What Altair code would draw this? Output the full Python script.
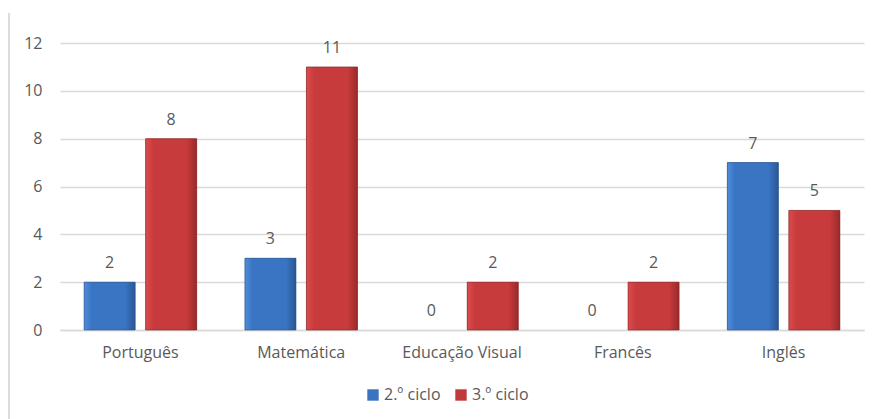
import altair as alt
import pandas as pd

categories = ["Português", "Matemática", "Educação Visual", "Francês", "Inglês"]
series = ["2.º ciclo", "3.º ciclo"]
values_2 = [2, 3, 0, 0, 7]
values_3 = [8, 11, 2, 2, 5]
y_ticks = [0, 2, 4, 6, 8, 10, 12]
colors = ["#3b73c0", "#c2393b"]

rows = []
for c, a, b in zip(categories, values_2, values_3):
    rows.append({"cat": c, "serie": series[0], "v": a})
    rows.append({"cat": c, "serie": series[1], "v": b})
df = pd.DataFrame(rows)

FONT = "Open Sans"
TXT = "#595959"
FS = 16

x = alt.X("cat:N", sort=categories,
          scale=alt.Scale(paddingInner=0.3, paddingOuter=0.15),
          axis=alt.Axis(title=None, labelAngle=0, ticks=False, domainColor="#d9d9d9",
                        domainWidth=1.5, labelPadding=14, labelFontSize=FS,
                        labelColor=TXT, labelFont=FONT))
xo = alt.XOffset("serie:N", sort=series, scale=alt.Scale(paddingInner=0.17))
y = alt.Y("v:Q", scale=alt.Scale(domain=[0, 12]),
          axis=alt.Axis(values=y_ticks, title=None, domain=False, ticks=False,
                        gridColor="#d9d9d9", gridWidth=1.5, labelPadding=18,
                        labelFontSize=FS, labelColor=TXT, labelFont=FONT))

base = alt.Chart(df)

bars = base.mark_bar(strokeWidth=0).encode(
    x=x, xOffset=xo, y=y,
    color=alt.Color("serie:N", sort=series,
                    scale=alt.Scale(domain=series, range=colors),
                    legend=alt.Legend(title=None, orient="none", legendX=305, legendY=344,
                                      direction="horizontal", symbolType="square",
                                      symbolSize=130, symbolStrokeWidth=0,
                                      labelFontSize=FS, labelColor=TXT, labelFont=FONT,
                                      columnPadding=12, labelOffset=3)),
)

def grad(light, mid, dark):
    return alt.LinearGradient(
        gradient="linear",
        stops=[alt.GradientStop(color=light, offset=0),
               alt.GradientStop(color=mid, offset=0.15),
               alt.GradientStop(color=mid, offset=0.8),
               alt.GradientStop(color=dark, offset=1)],
        x1=0, x2=1, y1=0, y2=0)

blue_over = base.transform_filter(
    (alt.datum.serie == series[0]) & (alt.datum.v > 0)
).mark_bar(
    color=grad("#4f8ddb", "#3a75c4", "#2a5796"), stroke="#2a4f85", strokeWidth=0.6
).encode(x=x, xOffset=xo, y=y)

red_over = base.transform_filter(
    (alt.datum.serie == series[1]) & (alt.datum.v > 0)
).mark_bar(
    color=grad("#dc4c4c", "#c83b3c", "#9a2a2b"), stroke="#7f2324", strokeWidth=0.6
).encode(x=x, xOffset=xo, y=y)

labels = base.mark_text(baseline="middle", dy=-19, fontSize=FS, color=TXT, font=FONT).encode(
    x=x, xOffset=xo, y=y, text=alt.Text("v:Q"))

border = alt.Chart(df).mark_rule(color="#dcdcdc", strokeWidth=2).encode(
    x=alt.value(-51), y=alt.value(-30), y2=alt.value(380))

chart = alt.layer(bars, blue_over, red_over, labels, border).properties(
    width=804, height=287,
    autosize=alt.AutoSizeParams(type="none"),
    padding={"left": 60, "top": 43, "right": 10, "bottom": 89},
    background="white",
).configure_view(stroke=None)

chart.save("out.html", embed_options={"renderer": "svg", "actions": False})
